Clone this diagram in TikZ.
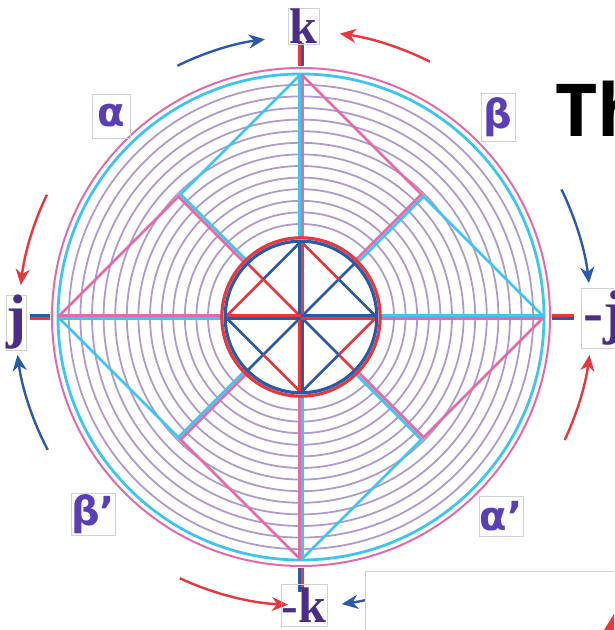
\documentclass[tikz,border=0pt]{standalone}
\usepackage{fontspec}
\newfontfamily\serifb{Liberation Serif}
\newfontfamily\greekf{DejaVu Sans}
\newfontfamily\titlef{Open Sans}
\usetikzlibrary{arrows.meta,calc}
\definecolor{cblue}{HTML}{2B5BA8}
\definecolor{cred}{HTML}{E8383D}
\definecolor{ccyan}{HTML}{3EC6EE}
\definecolor{cpink}{HTML}{E56BA8}
\definecolor{clav}{HTML}{B09CCB}
\definecolor{kpur}{HTML}{4B2C87}
\definecolor{gpur}{HTML}{5B3DB5}
\definecolor{boxgray}{HTML}{D2D2D2}
\newcommand\kfnt{\serifb\bfseries\fontsize{50pt}{50pt}\selectfont}
\newcommand\jfnt{\serifb\bfseries\fontsize{60pt}{60pt}\selectfont}
\newcommand\gfnt{\greekf\bfseries\fontsize{40pt}{40pt}\selectfont}
\newcommand\tfnt{\titlef\bfseries\fontsize{73pt}{73pt}\selectfont}
\begin{document}
\begin{tikzpicture}[x=1pt,y=1pt,
  ring/.style={draw=clav, line width=1.8pt},
  sg/.style={line width=2.8pt},
  ob/.style={sg, draw=ccyan},
  op/.style={sg, draw=cpink},
  ib/.style={sg, draw=cblue},
  ir/.style={sg, draw=cred},
  stubb/.style={draw=cblue, line width=3pt},
  stubr/.style={draw=cred, line width=3pt},
  arrB/.style={draw=cblue, line width=2.4pt, -{Stealth[length=16pt,width=14pt,inset=5pt]}},
  arrR/.style={draw=cred, line width=2.4pt, -{Stealth[length=16pt,width=14pt,inset=5pt]}},
  lab/.style={draw=boxgray, line width=0.7pt, inner sep=0pt},
  klab/.style={lab, text=kpur, font=\kfnt},
  jlab/.style={lab, text=kpur, font=\jfnt},
  glab/.style={lab, text=gpur, font=\gfnt}]
\useasboundingbox (0,0) rectangle (614,630);
\clip (0,0) rectangle (614,630);
\fill[white] (0,0) rectangle (614,630);
\coordinate (C) at (301,313);
% rings
\foreach \r in {0,...,12} \draw[ring] (C) circle ({93+11.6*\r});
% outer circles
\draw[draw=cpink, line width=2pt] (C) circle (249);
\draw[draw=ccyan, line width=2.8pt] (C) circle (243);
% outer diamond
\coordinate (oT) at ($(C)+(0,243)$);
\coordinate (oB) at ($(C)+(0,-243)$);
\coordinate (oL) at ($(C)+(-243,0)$);
\coordinate (oR) at ($(C)+(243,0)$);
\coordinate (oUL) at ($(C)+(-121.5,121.5)$);
\coordinate (oUR) at ($(C)+(121.5,121.5)$);
\coordinate (oLL) at ($(C)+(-121.5,-121.5)$);
\coordinate (oLR) at ($(C)+(121.5,-121.5)$);
\draw[ob] (oT) -- (oUL); \draw[op] (oUL) -- (oL);
\draw[op] (oT) -- (oUR); \draw[ob] (oUR) -- (oR);
\draw[ob] (oL) -- (oLL); \draw[op] (oLL) -- (oB);
\draw[op] (oR) -- (oLR); \draw[ob] (oLR) -- (oB);
% outer spokes (doubled)
\draw[ob] ($(C)+(-1.6,80)$) -- ($(oT)+(-1.6,0)$);
\draw[op] ($(C)+(1.6,80)$) -- ($(oT)+(1.6,0)$);
\draw[op] ($(C)+(-1.6,-80)$) -- ($(oB)+(-1.6,0)$);
\draw[ob] ($(C)+(1.6,-80)$) -- ($(oB)+(1.6,0)$);
\draw[op] ($(C)+(-80,1.6)$) -- ($(oL)+(0,1.6)$);
\draw[ob] ($(C)+(-80,-1.6)$) -- ($(oL)+(0,-1.6)$);
\draw[ob] ($(C)+(80,1.6)$) -- ($(oR)+(0,1.6)$);
\draw[op] ($(C)+(80,-1.6)$) -- ($(oR)+(0,-1.6)$);
\draw[ob] ($(C)+(135:80)+(1.1,1.1)$) -- ($(oUL)+(1.1,1.1)$);
\draw[op] ($(C)+(135:80)+(-1.1,-1.1)$) -- ($(oUL)+(-1.1,-1.1)$);
\draw[op] ($(C)+(45:80)+(-1.1,1.1)$) -- ($(oUR)+(-1.1,1.1)$);
\draw[ob] ($(C)+(45:80)+(1.1,-1.1)$) -- ($(oUR)+(1.1,-1.1)$);
\draw[ob] ($(C)+(-45:80)+(-1.1,-1.1)$) -- ($(oLR)+(-1.1,-1.1)$);
\draw[op] ($(C)+(-45:80)+(1.1,1.1)$) -- ($(oLR)+(1.1,1.1)$);
\draw[ob] ($(C)+(225:80)+(-1.1,1.1)$) -- ($(oLL)+(-1.1,1.1)$);
\draw[op] ($(C)+(225:80)+(1.1,-1.1)$) -- ($(oLL)+(1.1,-1.1)$);
% inner pattern
\fill[white] (C) circle (78);
\coordinate (iT) at ($(C)+(0,75.5)$);
\coordinate (iB) at ($(C)+(0,-75.5)$);
\coordinate (iL) at ($(C)+(-75.5,0)$);
\coordinate (iR) at ($(C)+(75.5,0)$);
\coordinate (iUL) at ($(C)+(-37.75,37.75)$);
\coordinate (iUR) at ($(C)+(37.75,37.75)$);
\coordinate (iLL) at ($(C)+(-37.75,-37.75)$);
\coordinate (iLR) at ($(C)+(37.75,-37.75)$);
\draw[ir] (C) -- ($(C)+(135:76)$);
\draw[ib] (C) -- ($(C)+(45:76)$);
\draw[ib] (C) -- ($(C)+(225:76)$);
\draw[ib] (C) -- (iLR); \draw[ir] (iLR) -- ($(C)+(-45:76)$);
\draw[ib] (iT) -- (iUL); \draw[ir] (iUL) -- (iL);
\draw[ir] (iT) -- (iUR); \draw[ib] (iUR) -- (iR);
\draw[ib] (iL) -- (iLL); \draw[ir] (iLL) -- (iB);
\draw[ir] (iR) -- (iLR); \draw[ib] (iLR) -- (iB);
\draw[ib] ($(C)+(-1.5,0)$) -- ($(iT)+(-1.5,0)$);
\draw[ir] ($(C)+(1.5,0)$) -- ($(iT)+(1.5,0)$);
\draw[ir] ($(C)+(-1.5,0)$) -- ($(iB)+(-1.5,0)$);
\draw[ib] ($(C)+(1.5,0)$) -- ($(iB)+(1.5,0)$);
\draw[ir] ($(C)+(0,1.5)$) -- ($(iL)+(0,1.5)$);
\draw[ib] ($(C)+(0,-1.5)$) -- ($(iL)+(0,-1.5)$);
\draw[ib] ($(C)+(0,1.5)$) -- ($(iR)+(0,1.5)$);
\draw[ir] ($(C)+(0,-1.5)$) -- ($(iR)+(0,-1.5)$);
\draw[draw=cred, line width=3.2pt] (C) circle (79.2);
\draw[draw=cblue, line width=3.2pt] (C) circle (75.8);
% axis stubs
\draw[stubr] ($(C)+(-1.6,251)$) -- ($(C)+(-1.6,274)$);
\draw[stubb] ($(C)+(1.6,251)$) -- ($(C)+(1.6,274)$);
\draw[stubb] ($(C)+(-1.6,-251)$) -- ($(C)+(-1.6,-275)$);
\draw[stubr] ($(C)+(1.6,-251)$) -- ($(C)+(1.6,-275)$);
\draw[stubb] ($(C)+(-251,1.6)$) -- ($(C)+(-271,1.6)$);
\draw[stubr] ($(C)+(-251,-1.6)$) -- ($(C)+(-271,-1.6)$);
\draw[stubr] ($(C)+(251,1.6)$) -- ($(C)+(273,1.6)$);
\draw[stubb] ($(C)+(251,-1.6)$) -- ($(C)+(273,-1.6)$);
% curved arrows
\draw[arrB] ($(C)+(116.2:280)$) arc[start angle=116.2, end angle=97.4, radius=280];
\draw[arrR] ($(C)+(63.2:286)$) arc[start angle=63.2, end angle=82.2, radius=286];
\draw[arrR] ($(C)+(154.3:282)$) arc[start angle=154.3, end angle=173.5, radius=282];
\draw[arrB] ($(C)+(207.7:286)$) arc[start angle=207.7, end angle=187.6, radius=286];
\draw[arrB] ($(C)+(26.1:290)$) arc[start angle=26.1, end angle=6.7, radius=290];
\draw[arrR] ($(C)+(-25:291)$) arc[start angle=-25, end angle=-7.5, radius=291];
\draw[arrR] ($(C)+(245.1:288)$) arc[start angle=245.1, end angle=267.4, radius=288];
\draw[arrB] ($(C)+(-65:290)$) arc[start angle=-65, end angle=-81.9, radius=290];
% bottom-right box
\draw[draw=boxgray, line width=1pt, fill=white] (365,-5) rectangle (620,58);
\fill[cred] (604,0) -- (614,16) -- (614,0) -- cycle;
% labels
\node[klab, minimum width=31pt, minimum height=36pt] (k) at (303.5,604) {k};
\node[klab, minimum width=46pt, minimum height=42pt] (mk) at (304,25) {-k};
\node[jlab, minimum width=13pt, minimum height=55pt] (j) at (16.5,307.5) {j};
\node[jlab, anchor=west, minimum height=60pt, inner xsep=2pt] (mj) at (581,312) {-j};
\node[glab, minimum width=38pt, minimum height=44pt] (al) at (111,514) {α};
\node[glab, minimum width=34pt, minimum height=48pt] (be) at (498,513) {β};
\node[glab, minimum width=42pt, minimum height=42pt] (bep) at (93,116) {β’};
\node[glab, minimum width=44pt, minimum height=40pt] (alp) at (501,114) {α’};
\node[anchor=base west, inner sep=0pt, font=\tfnt] (th) at (555,493) {Th};
\end{tikzpicture}
\end{document}
